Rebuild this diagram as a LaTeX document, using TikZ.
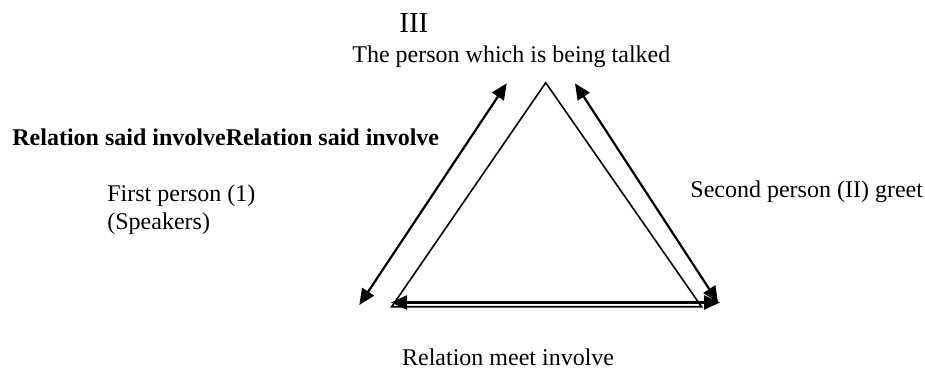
\documentclass[tikz,border=0pt]{standalone}
\usepackage{fontspec}
\setmainfont{Liberation Serif}
\usetikzlibrary{arrows.meta}
\tikzset{
  lbl/.style={inner sep=0pt, anchor=base west, align=left, font=\fontsize{12}{14}\selectfont},
  lblbig/.style={lbl, font=\fontsize{14.5}{17}\selectfont},
  lblbold/.style={lbl, font=\fontsize{12}{14}\selectfont\bfseries},
  tri/.style={line width=0.8pt, line join=miter},
  rel/.style={{Triangle[length=8pt,width=7pt]}-{Triangle[length=8pt,width=7pt]}, line width=1.1pt},
}

\begin{document}
\begin{tikzpicture}[x=0.5pt, y=-0.5pt]
  \useasboundingbox (0,0) rectangle (925,369);
  % triangle
  \coordinate (top) at (545.7,82.7);
  \coordinate (bl) at (391.7,306.7);
  \coordinate (br) at (701.5,306.7);
  \draw[tri] (top) -- (bl) -- (br) -- cycle;
  % relation arrows
  \coordinate (la) at (359.3,305);
  \coordinate (lb) at (506.7,83.3);
  \coordinate (ra) at (575,83.3);
  \coordinate (rb) at (718,302.5);
  \coordinate (ba) at (391,302.5);
  \coordinate (bb) at (720,302.5);
  \draw[rel] (la) -- (lb);
  \draw[rel] (ra) -- (rb);
  \draw[rel] (ba) -- (bb);
  % labels
  \node[lblbig] (third) at (399,33) {III};
  \node[lbl] (talked) at (352,62.7) {The person which is being talked};
  \node[lblbold] (said) at (12,145) {Relation said involveRelation said involve};
  \node[lbl] (first) at (107,229.3) {First person (1)\\(Speakers)};
  \node[lbl] (second) at (690,197) {Second person (II) greet};
  \node[lbl] (meet) at (401.7,365) {Relation meet involve};
\end{tikzpicture}
\end{document}
